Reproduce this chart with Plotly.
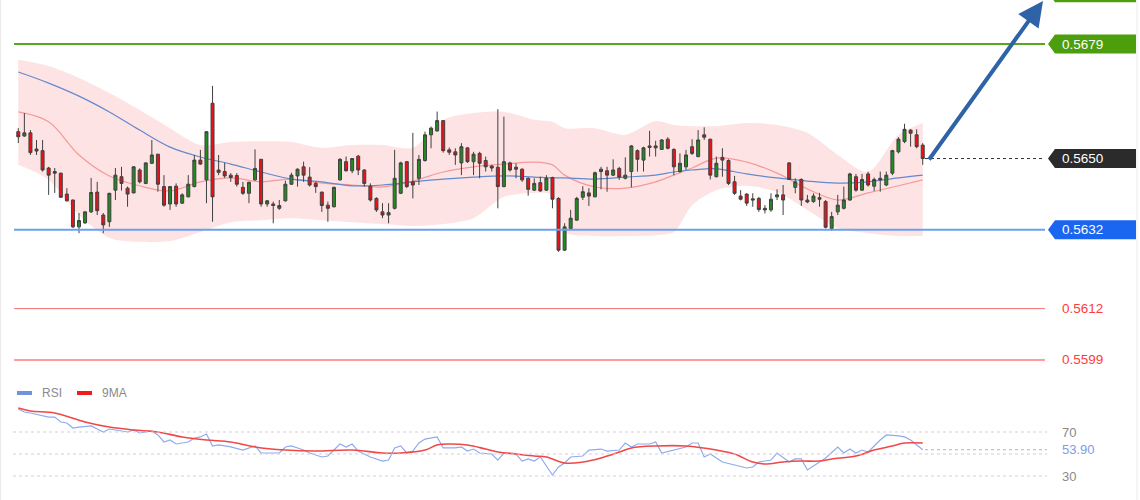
import plotly.graph_objects as go

# ---------------- data ----------------
candle_idx = list(range(150))

open_ = [0.56568,0.56557,0.56565,0.56524,0.56520,0.56476,0.56467,0.56463,0.56410,0.56395,
0.56327,0.56337,0.56365,0.56415,0.56357,0.56340,0.56420,0.56454,0.56425,0.56413,
0.56471,0.56437,0.56488,0.56511,0.56429,0.56385,0.56430,0.56387,0.56403,0.56429,
0.56496,0.56446,0.56640,0.56471,0.56467,0.56458,0.56457,0.56427,0.56412,0.56446,
0.56498,0.56385,0.56385,0.56374,0.56393,0.56435,0.56456,0.56479,0.56453,0.56437,
0.56415,0.56382,0.56378,0.56446,0.56492,0.56469,0.56506,0.56471,0.56430,0.56399,
0.56365,0.56357,0.56374,0.56412,0.56492,0.56441,0.56450,0.56495,0.56560,0.56570,
0.56596,0.56522,0.56517,0.56489,0.56527,0.56492,0.56513,0.56495,0.56481,0.56478,
0.56429,0.56489,0.56478,0.56473,0.56450,0.56420,0.56439,0.56420,0.56452,0.56399,
0.56268,0.56323,0.56344,0.56402,0.56413,0.56403,0.56473,0.56469,0.56458,0.56475,
0.56450,0.56467,0.56520,0.56496,0.56532,0.56532,0.56523,0.56549,0.56523,0.56467,
0.56479,0.56530,0.56505,0.56560,0.56549,0.56454,0.56503,0.56495,0.56441,0.56405,
0.56410,0.56398,0.56399,0.56374,0.56370,0.56403,0.56408,0.56489,0.56427,0.56447,
0.56395,0.56391,0.56401,0.56391,0.56323,0.56365,0.56374,0.56395,0.56454,0.56420,
0.56461,0.56430,0.56450,0.56433,0.56463,0.56517,0.56543,0.56572,0.56560,0.56534]

high = [0.56577,0.56615,0.56572,0.56547,0.56547,0.56479,0.56476,0.56464,0.56425,0.56396,
0.56362,0.56366,0.56451,0.56441,0.56362,0.56413,0.56476,0.56479,0.56429,0.56481,
0.56475,0.56490,0.56547,0.56512,0.56458,0.56430,0.56437,0.56412,0.56458,0.56509,
0.56522,0.56568,0.56684,0.56509,0.56489,0.56463,0.56463,0.56441,0.56441,0.56523,
0.56499,0.56395,0.56391,0.56395,0.56444,0.56464,0.56475,0.56492,0.56478,0.56441,
0.56416,0.56391,0.56429,0.56501,0.56505,0.56501,0.56509,0.56473,0.56437,0.56402,
0.56387,0.56387,0.56522,0.56492,0.56493,0.56565,0.56509,0.56568,0.56581,0.56619,
0.56597,0.56528,0.56526,0.56539,0.56528,0.56517,0.56517,0.56505,0.56484,0.56625,
0.56606,0.56492,0.56488,0.56475,0.56452,0.56450,0.56454,0.56458,0.56454,0.56402,
0.56336,0.56370,0.56403,0.56430,0.56425,0.56467,0.56479,0.56479,0.56498,0.56479,
0.56503,0.56534,0.56523,0.56530,0.56570,0.56545,0.56549,0.56554,0.56526,0.56513,
0.56522,0.56549,0.56572,0.56579,0.56550,0.56505,0.56526,0.56498,0.56456,0.56420,
0.56412,0.56412,0.56403,0.56382,0.56412,0.56422,0.56433,0.56491,0.56450,0.56450,
0.56408,0.56412,0.56413,0.56395,0.56365,0.56408,0.56429,0.56464,0.56461,0.56461,
0.56467,0.56452,0.56467,0.56467,0.56522,0.56554,0.56588,0.56574,0.56574,0.56539]

low = [0.56539,0.56555,0.56509,0.56509,0.56467,0.56408,0.56413,0.56400,0.56391,0.56324,
0.56311,0.56335,0.56362,0.56357,0.56311,0.56327,0.56395,0.56419,0.56378,0.56412,
0.56437,0.56435,0.56486,0.56416,0.56378,0.56370,0.56378,0.56385,0.56402,0.56427,
0.56484,0.56387,0.56340,0.56458,0.56451,0.56441,0.56429,0.56408,0.56387,0.56444,
0.56378,0.56378,0.56336,0.56370,0.56391,0.56433,0.56429,0.56441,0.56429,0.56413,
0.56365,0.56340,0.56376,0.56444,0.56467,0.56463,0.56458,0.56429,0.56391,0.56365,
0.56349,0.56336,0.56371,0.56410,0.56425,0.56399,0.56433,0.56492,0.56526,0.56568,
0.56515,0.56509,0.56484,0.56458,0.56489,0.56458,0.56450,0.56467,0.56467,0.56374,
0.56427,0.56467,0.56450,0.56441,0.56406,0.56418,0.56416,0.56418,0.56374,0.56264,
0.56266,0.56319,0.56343,0.56395,0.56380,0.56402,0.56422,0.56416,0.56456,0.56446,
0.56447,0.56427,0.56467,0.56467,0.56505,0.56505,0.56522,0.56523,0.56458,0.56464,
0.56471,0.56509,0.56503,0.56547,0.56447,0.56452,0.56454,0.56433,0.56408,0.56394,
0.56380,0.56378,0.56365,0.56361,0.56365,0.56395,0.56357,0.56446,0.56412,0.56380,
0.56387,0.56388,0.56378,0.56323,0.56317,0.56357,0.56371,0.56393,0.56416,0.56418,
0.56429,0.56418,0.56416,0.56430,0.56458,0.56513,0.56539,0.56530,0.56526,0.56484]

close = [0.56555,0.56565,0.56515,0.56519,0.56471,0.56458,0.56463,0.56402,0.56393,0.56327,
0.56343,0.56365,0.56414,0.56368,0.56332,0.56412,0.56458,0.56437,0.56410,0.56479,
0.56441,0.56489,0.56509,0.56435,0.56382,0.56429,0.56385,0.56408,0.56435,0.56496,
0.56486,0.56568,0.56403,0.56465,0.56456,0.56452,0.56435,0.56412,0.56440,0.56475,
0.56385,0.56393,0.56381,0.56381,0.56435,0.56458,0.56473,0.56458,0.56433,0.56429,
0.56381,0.56374,0.56427,0.56498,0.56469,0.56500,0.56471,0.56437,0.56395,0.56370,
0.56357,0.56363,0.56450,0.56489,0.56429,0.56433,0.56498,0.56560,0.56577,0.56596,
0.56520,0.56516,0.56509,0.56530,0.56492,0.56511,0.56488,0.56479,0.56476,0.56429,
0.56492,0.56471,0.56473,0.56446,0.56422,0.56437,0.56418,0.56450,0.56397,0.56268,
0.56327,0.56349,0.56399,0.56416,0.56405,0.56464,0.56467,0.56458,0.56471,0.56453,
0.56458,0.56532,0.56498,0.56527,0.56528,0.56527,0.56547,0.56526,0.56479,0.56488,
0.56509,0.56513,0.56547,0.56554,0.56458,0.56488,0.56496,0.56437,0.56412,0.56397,
0.56387,0.56395,0.56371,0.56370,0.56397,0.56408,0.56395,0.56447,0.56441,0.56395,
0.56390,0.56405,0.56397,0.56326,0.56353,0.56382,0.56395,0.56461,0.56420,0.56447,
0.56433,0.56447,0.56446,0.56458,0.56520,0.56549,0.56574,0.56564,0.56530,0.56500]

# Bollinger band / moving averages, sampled at these candle indices
band_idx = [0,5,10,15,20,25,30,35,40,45,50,55,60,65,70,75,80,85,88,90,95,100,105,108,111,115,120,125,130,135,140,145,149]
band_upper = [0.56750,0.56734,0.56704,0.56666,0.56623,0.56577,0.56534,0.56542,0.56544,0.56542,
0.56527,0.56534,0.56534,0.56527,0.56598,0.56615,0.56618,0.56598,0.56593,0.56577,
0.56577,0.56560,0.56595,0.56585,0.56582,0.56582,0.56590,0.56585,0.56565,0.56509,
0.56466,0.56560,0.56590]
band_lower = [0.56484,0.56446,0.56357,0.56299,0.56289,0.56291,0.56314,0.56339,0.56344,0.56349,
0.56344,0.56339,0.56334,0.56329,0.56334,0.56349,0.56403,0.56413,0.56408,0.56314,
0.56304,0.56304,0.56306,0.56314,0.56382,0.56420,0.56431,0.56415,0.56370,0.56324,
0.56311,0.56304,0.56304]
ma_short = [0.56618,0.56593,0.56509,0.56456,0.56431,0.56418,0.56441,0.56451,0.56441,0.56448,
0.56438,0.56433,0.56428,0.56443,0.56466,0.56479,0.56486,0.56491,0.56484,0.56458,
0.56428,0.56425,0.56441,0.56458,0.56476,0.56501,0.56491,0.56463,0.56423,0.56395,
0.56413,0.56431,0.56446]
ma_long = [0.56719,0.56691,0.56658,0.56618,0.56572,0.56529,0.56504,0.56486,0.56466,0.56448,
0.56441,0.56431,0.56433,0.56441,0.56448,0.56453,0.56456,0.56453,0.56451,0.56451,
0.56448,0.56453,0.56458,0.56466,0.56471,0.56474,0.56461,0.56451,0.56443,0.56438,
0.56441,0.56451,0.56458]

# RSI and its 9-period MA
rsi_idx = [0,1,2,4,5,6,7,8,9,10,12,13,14,15,16,18,19,20,22,23,24,25,26,28,29,30,31,32,33,35,
37,39,40,41,43,44,45,47,48,50,51,53,54,55,56,58,60,61,62,63,64,65,66,67,69,70,72,73,74,75,
76,78,79,80,82,83,84,85,86,88,89,90,91,93,94,96,97,99,100,101,102,104,105,106,108,110,111,112,113,114,
116,118,120,121,122,124,125,127,128,129,130,132,133,135,136,137,138,139,140,142,143,145,146,147,148,149]
rsi_val = [90.9,88.2,87.3,84.5,83.6,83.6,79.1,78.2,73.6,74.5,75.5,72.7,70.0,72.7,71.8,70.0,71.8,69.1,70.9,67.3,60.9,62.7,59.1,60.9,64.5,65.5,68.2,57.3,58.2,56.4,
53.6,57.3,50.9,50.9,50.9,56.4,57.3,53.6,50.9,47.3,48.2,59.1,56.4,59.1,52.7,47.3,43.6,44.5,55.5,57.3,50.9,52.7,60.0,63.6,65.5,55.5,55.5,56.4,52.7,54.5,
50.9,50.0,44.5,50.9,50.0,43.6,45.5,43.6,47.3,30.9,38.2,41.8,47.3,48.2,53.6,54.5,52.7,53.6,60.0,56.4,59.1,59.1,60.9,50.9,53.6,56.4,60.0,60.0,47.3,50.0,
42.7,40.0,37.3,38.2,42.7,44.5,50.9,42.7,45.5,45.5,35.5,42.7,46.4,56.4,50.9,54.5,50.9,53.6,51.8,62.7,67.3,66.4,65.5,62.7,58.2,53.9]
ma9_idx = [0,2,6,11,15,19,23,27,31,35,39,44,49,55,60,63,67,69,71,74,77,79,82,85,87,90,93,96,99,101,
105,110,115,118,121,123,126,129,132,134,138,141,144,146,149]
ma9_val = [91.8,89.1,87.3,79.1,74.5,71.8,70.0,65.5,62.7,60.9,56.4,53.6,52.7,53.6,50.9,50.9,53.6,58.2,59.1,58.2,
54.5,51.8,50.0,48.2,47.3,41.8,42.7,46.4,51.8,55.5,57.3,57.3,53.6,50.0,42.7,40.9,42.7,43.6,43.6,45.5,
48.2,53.6,57.3,60.0,60.0]

level_target_top = 0.5692
level_resist = 0.5679
level_last = 0.5650
level_support = 0.5632
level_s2 = 0.5612
level_s3 = 0.5599
rsi_last = 53.90
rsi_levels = [70, 50, 30]

# ---------------- layout geometry ----------------
W, H = 1140, 500
X0_PIX, DX_PIX = 18.3, 6.07
x_range = [-X0_PIX / DX_PIX, (W - X0_PIX) / DX_PIX]
main_dom = [0.26, 1.0]
y_range = [0.559646, 0.569014]
rsi_dom = [0.0, 0.24]
rsi_range = [8.18, 117.27]
ppx = (y_range[1] - y_range[0]) / (H * (main_dom[1] - main_dom[0]))  # price per pixel

LINE_L, LINE_R = 14 / W, 1045 / W
END_X = 925 / W
FONT = "Liberation Sans, Arial, sans-serif"

fig = go.Figure()

# Bollinger band + averages (base price axis)
fig.add_trace(go.Scatter(x=band_idx, y=band_upper, mode="lines", line=dict(width=0, shape="spline", smoothing=0.8),
                         hoverinfo="skip", showlegend=False))
fig.add_trace(go.Scatter(x=band_idx, y=band_lower, mode="lines", line=dict(width=0, shape="spline", smoothing=0.8),
                         fill="tonexty", fillcolor="#fde3e3", hoverinfo="skip", showlegend=False))
fig.add_trace(go.Scatter(x=band_idx, y=ma_short, mode="lines",
                         line=dict(color="#f49a9a", width=1.2, shape="spline"), showlegend=False))
fig.add_trace(go.Scatter(x=band_idx, y=ma_long, mode="lines",
                         line=dict(color="#6489cf", width=1.2, shape="spline"), showlegend=False))

# candles on an overlaying price axis so they are drawn above the band
fig.add_trace(go.Candlestick(
    x=candle_idx, open=open_, high=high, low=low, close=close, yaxis="y3",
    increasing=dict(line=dict(color="#404040", width=1), fillcolor="#218a21"),
    decreasing=dict(line=dict(color="#404040", width=1), fillcolor="#ea121a"),
    whiskerwidth=0, showlegend=False))

# RSI panel
fig.add_trace(go.Scatter(x=rsi_idx, y=rsi_val, mode="lines", yaxis="y2",
                         line=dict(color="#8eabec", width=1.2), showlegend=False))
fig.add_trace(go.Scatter(x=ma9_idx, y=ma9_val, mode="lines", yaxis="y2",
                         line=dict(color="#f04848", width=1.6, shape="spline"), showlegend=False))

shapes = []
annotations = []

def hline(level, color, width, dash="solid", x0=LINE_L, yref="y"):
    shapes.append(dict(type="line", xref="paper", yref=yref, x0=x0, x1=LINE_R, y0=level, y1=level,
                       line=dict(color=color, width=width, dash=dash), layer="above"))

def tag(level, color, text=None):
    h = 9.5 * ppx
    xl, xc, xr = 1048 / W, 1055 / W, 1136 / W
    path = (f"M {xl},{level} L {xc},{level + h} L {xr},{level + h} "
            f"L {xr},{level - h} L {xc},{level - h} Z")
    shapes.append(dict(type="path", xref="paper", yref="y", path=path,
                       fillcolor=color, line=dict(width=0), layer="above"))
    if text:
        annotations.append(dict(xref="paper", yref="y", x=1060 / W, y=level, text=text,
                                showarrow=False, xanchor="left", yanchor="middle",
                                font=dict(family=FONT, size=13.5, color="#ffffff")))

hline(level_resist, "#56a91d", 2)
hline(level_support, "#6d9ef0", 2)
hline(level_s2, "#f07070", 1)
hline(level_s3, "#ff9d9d", 2)
hline(level_last, "#333333", 1, dash="dot", x0=END_X)

tag(level_target_top, "#4c9e0c")
tag(level_resist, "#4c9e0c", f"{level_resist:.4f}")
tag(level_last, "#2b2b2b", f"{level_last:.4f}")
tag(level_support, "#1a66f0", f"{level_support:.4f}")

for lv in (level_s2, level_s3):
    annotations.append(dict(xref="paper", yref="y", x=1060 / W, y=lv, text=f"{lv:.4f}",
                            showarrow=False, xanchor="left", yanchor="middle",
                            font=dict(family=FONT, size=13.5, color="#ff3b3b")))

# RSI guide lines and labels
for lv in rsi_levels:
    shapes.append(dict(type="line", xref="paper", yref="y2", x0=13 / W, x1=1047 / W, y0=lv, y1=lv,
                       line=dict(color="#d6cdd8", width=1, dash="dot")))
shapes.append(dict(type="line", xref="paper", yref="y2", x0=END_X, x1=1047 / W, y0=rsi_last, y1=rsi_last,
                   line=dict(color="#9db5ee", width=1, dash="dot")))
for lv in (70, 30):
    annotations.append(dict(xref="paper", yref="y2", x=1060 / W, y=lv, text=str(lv), showarrow=False,
                            xanchor="left", yanchor="middle",
                            font=dict(family=FONT, size=13, color="#8a8a8a")))
annotations.append(dict(xref="paper", yref="y2", x=1060 / W, y=rsi_last, text=f"{rsi_last:.2f}",
                        showarrow=False, xanchor="left", yanchor="middle",
                        font=dict(family=FONT, size=13, color="#7d9de6")))

# RSI legend
ly = 1 - 393 / H
shapes.append(dict(type="line", xref="paper", yref="paper", x0=17 / W, x1=32 / W, y0=ly, y1=ly,
                   line=dict(color="#6f93e0", width=4)))
shapes.append(dict(type="line", xref="paper", yref="paper", x0=77 / W, x1=92 / W, y0=ly, y1=ly,
                   line=dict(color="#ee1c1c", width=4)))
annotations.append(dict(xref="paper", yref="paper", x=40 / W, y=ly, text="RSI", showarrow=False,
                        xanchor="left", yanchor="middle", font=dict(family=FONT, size=12, color="#8a8a8a")))
annotations.append(dict(xref="paper", yref="paper", x=100 / W, y=ly, text="9MA", showarrow=False,
                        xanchor="left", yanchor="middle", font=dict(family=FONT, size=12, color="#8a8a8a")))

# forecast arrow
annotations.append(dict(xref="paper", yref="paper", x=1043 / W, y=1 - 1 / H, text="",
                        showarrow=True, axref="pixel", ayref="pixel", ax=-115, ay=160,
                        arrowhead=2, arrowsize=1.25, arrowwidth=4, arrowcolor="#2e63a7"))

# faint frame
shapes.append(dict(type="line", xref="paper", yref="paper", x0=1137 / W, x1=1137 / W, y0=0, y1=1,
                   line=dict(color="#ebebeb", width=1)))
shapes.append(dict(type="line", xref="paper", yref="paper", x0=0.6 / W, x1=0.6 / W, y0=0, y1=1,
                   line=dict(color="#ebebeb", width=1)))

fig.update_layout(
    width=W, height=H, autosize=False,
    margin=dict(l=0, r=0, t=0, b=0),
    paper_bgcolor="#ffffff", plot_bgcolor="#ffffff",
    showlegend=False, hovermode=False,
    boxgap=0.3,
    xaxis=dict(range=x_range, domain=[0, 1], visible=False, showgrid=False, zeroline=False,
               rangeslider=dict(visible=False), fixedrange=True, anchor="y"),
    yaxis=dict(range=y_range, domain=main_dom, visible=False, showgrid=False, zeroline=False, fixedrange=True),
    yaxis3=dict(range=y_range, overlaying="y", anchor="x", visible=False, showgrid=False,
                zeroline=False, fixedrange=True),
    yaxis2=dict(range=rsi_range, domain=rsi_dom, visible=False, showgrid=False, zeroline=False,
                anchor="x", fixedrange=True),
    shapes=shapes, annotations=annotations,
)

fig.write_html("out.html")
